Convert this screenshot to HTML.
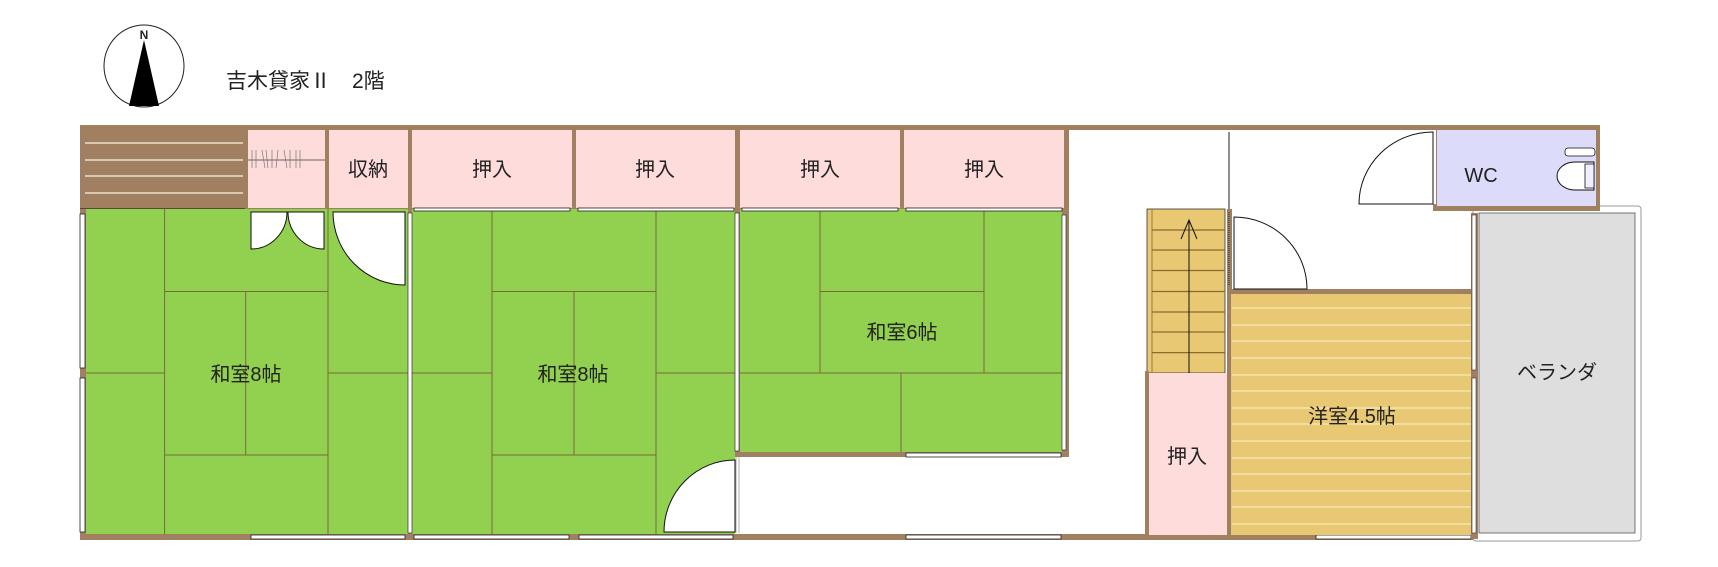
<!DOCTYPE html>
<html><head><meta charset="utf-8"><style>
html,body{margin:0;padding:0;background:#fff}
svg{display:block}
text{font-family:"Liberation Sans","Noto Sans CJK JP",sans-serif;fill:#222}
</style></head><body>
<svg width="1718" height="567" viewBox="0 0 1718 567" xmlns="http://www.w3.org/2000/svg">
<ellipse cx="144" cy="66" rx="40" ry="41" fill="#fff" stroke="#222" stroke-width="1"/>
<polygon points="144,40 129,106 159,106" fill="#000"/>
<text x="144" y="39" font-size="12" text-anchor="middle" font-family="Liberation Serif" font-weight="bold">N</text>
<text x="226" y="88" font-size="21">吉木貸家Ⅱ　2階</text>

<rect x="80" y="125" width="1520" height="5" fill="#a08060"/>
<rect x="80" y="125" width="165" height="84" fill="#a08060"/>
<g stroke="#e8e0d0" stroke-width="1.5"><line x1="85" y1="143" x2="243" y2="143"/><line x1="85" y1="160" x2="243" y2="160"/><line x1="85" y1="176" x2="243" y2="176"/><line x1="85" y1="193" x2="243" y2="193"/></g>
<line x1="80" y1="209" x2="245" y2="209" stroke="#111" stroke-width="1"/>
<rect x="245" y="130" width="824" height="80" fill="#a08060"/>
<g fill="#ffdcdc">
<rect x="248" y="130" width="77" height="78"/>
<rect x="329" y="130" width="79" height="78"/>
<rect x="412" y="130" width="160" height="78"/>
<rect x="576" y="130" width="159" height="78"/>
<rect x="740" y="130" width="160" height="78"/>
<rect x="904" y="130" width="160" height="78"/>
</g>
<line x1="248" y1="160" x2="325" y2="160" stroke="#666" stroke-width="1"/>
<path d="M252 150v18M256 150v18M262 150l3 18M266 150l2 18M272 150v18M278 150l-2 18M284 150l3 18M290 150v18M296 150v18M300 150v18" stroke="#777" stroke-width="0.7"/>
<g font-size="20" text-anchor="middle">
<text x="368" y="176">収納</text>
<text x="492" y="176">押入</text>
<text x="655" y="176">押入</text>
<text x="820" y="176">押入</text>
<text x="984" y="176">押入</text>
</g>

<rect x="80" y="209" width="332" height="331" fill="#a08060"/>
<rect x="86" y="209" width="322" height="326" fill="#92d050"/>
<g stroke="#7a6a3a" stroke-width="1" fill="none">
<line x1="86" y1="373" x2="164.6" y2="373"/><line x1="164.6" y1="209" x2="164.6" y2="535"/>
<line x1="164.6" y1="291.5" x2="328" y2="291.5"/><line x1="164.6" y1="455" x2="328" y2="455"/>
<line x1="245.7" y1="291.5" x2="245.7" y2="455"/><line x1="328" y1="209" x2="328" y2="535"/>
<line x1="328" y1="373" x2="408" y2="373"/>
</g>
<rect x="412" y="209" width="323" height="326" fill="#92d050"/>
<rect x="735" y="209" width="5" height="326" fill="#a08060"/>
<g stroke="#7a6a3a" stroke-width="1" fill="none">
<line x1="412" y1="373" x2="492" y2="373"/><line x1="492" y1="209" x2="492" y2="535"/>
<line x1="492" y1="291.5" x2="656" y2="291.5"/><line x1="492" y1="455" x2="656" y2="455"/>
<line x1="574" y1="291.5" x2="574" y2="455"/><line x1="656" y1="209" x2="656" y2="535"/>
<line x1="656" y1="373" x2="735" y2="373"/>
</g>
<rect x="740" y="209" width="329" height="248" fill="#a08060"/>
<rect x="740" y="209" width="322" height="243" fill="#92d050"/>
<g stroke="#7a6a3a" stroke-width="1" fill="none">
<line x1="820" y1="209" x2="820" y2="373"/><line x1="820" y1="291.5" x2="984" y2="291.5"/>
<line x1="984" y1="209" x2="984" y2="373"/><line x1="740" y1="373" x2="1062" y2="373"/>
<line x1="901" y1="373" x2="901" y2="452"/>
</g>
<rect x="735" y="457" width="5" height="78" fill="#fff"/>
<line x1="736" y1="457" x2="736" y2="533" stroke="#999" stroke-width="0.8"/><line x1="739" y1="457" x2="739" y2="533" stroke="#999" stroke-width="0.8"/>
<rect x="80" y="534" width="1398" height="6" fill="#a08060"/>
<rect x="408" y="213" width="4" height="320" fill="#fff" stroke="#333" stroke-width="0.7"/>
<rect x="735" y="213" width="4" height="238" fill="#fff" stroke="#333" stroke-width="0.7"/>
<rect x="1062" y="215" width="4" height="235" fill="#fff" stroke="#333" stroke-width="0.7"/>
<g fill="#fff" stroke="#222" stroke-width="0.8">
<rect x="80" y="214" width="5" height="154"/><rect x="80" y="378" width="5" height="154"/>
<rect x="251" y="535" width="154" height="4"/><rect x="414" y="535" width="155" height="4"/><rect x="579" y="535" width="154" height="4"/>
<rect x="906" y="535" width="155" height="4"/><rect x="1316" y="535" width="155" height="4"/>
<rect x="906" y="453" width="155" height="4"/>
<rect x="414" y="208" width="156" height="3"/><rect x="578" y="208" width="156" height="3"/><rect x="742" y="208" width="156" height="3"/><rect x="906" y="208" width="156" height="3"/>
</g>
<g fill="#fff" stroke="#111" stroke-width="1">
<path d="M251 212 V249 A36 37 0 0 0 287 212 Z"/>
<path d="M324 212 V249 A36 37 0 0 1 288 212 Z"/>
<path d="M405 212 V285 A72 73 0 0 1 333 212 Z"/>
<path d="M735 532 H664 A71 72 0 0 1 735 460 Z"/>
</g>
<rect x="1147" y="209" width="78" height="164" fill="#e8c872" stroke="#333" stroke-width="0.8"/>
<g stroke="#8a6a30" stroke-width="1.2"><line x1="1152" y1="230" x2="1225" y2="230"/><line x1="1152" y1="250" x2="1225" y2="250"/><line x1="1152" y1="270.5" x2="1225" y2="270.5"/><line x1="1152" y1="291.5" x2="1225" y2="291.5"/><line x1="1152" y1="312" x2="1225" y2="312"/><line x1="1152" y1="332" x2="1225" y2="332"/><line x1="1152" y1="352.6" x2="1225" y2="352.6"/></g>
<line x1="1152" y1="209" x2="1152" y2="373" stroke="#8a6a30" stroke-width="0.8"/>
<line x1="1189" y1="220" x2="1189" y2="373" stroke="#111" stroke-width="1"/>
<polyline points="1181,239 1189,220 1197,239" fill="none" stroke="#111" stroke-width="1"/>
<rect x="1145" y="371" width="4" height="169" fill="#a08060"/>
<rect x="1149" y="373" width="78" height="162" fill="#ffdcdc"/>
<text x="1187" y="463" font-size="20" text-anchor="middle">押入</text>
<rect x="1227" y="209" width="5" height="330" fill="#a08060"/>
<line x1="1229" y1="132" x2="1229" y2="209" stroke="#222" stroke-width="1"/>
<line x1="1229" y1="212" x2="1229" y2="286" stroke="#555" stroke-width="2" stroke-dasharray="1,1"/>
<rect x="1231" y="289" width="240" height="5" fill="#a08060"/>
<rect x="1231" y="294" width="240" height="241" fill="#e8c872"/>
<g stroke="#f6eab8" stroke-width="1.2">
<line x1="1232" y1="308" x2="1471" y2="308"/><line x1="1232" y1="325" x2="1471" y2="325"/><line x1="1232" y1="341" x2="1471" y2="341"/><line x1="1232" y1="358" x2="1471" y2="358"/><line x1="1232" y1="375" x2="1471" y2="375"/><line x1="1232" y1="391" x2="1471" y2="391"/><line x1="1232" y1="408" x2="1471" y2="408"/><line x1="1232" y1="424" x2="1471" y2="424"/><line x1="1232" y1="441" x2="1471" y2="441"/><line x1="1232" y1="458" x2="1471" y2="458"/><line x1="1232" y1="474" x2="1471" y2="474"/><line x1="1232" y1="491" x2="1471" y2="491"/><line x1="1232" y1="507" x2="1471" y2="507"/><line x1="1232" y1="524" x2="1471" y2="524"/>
</g>
<path d="M1234 289 V217 A73 72 0 0 1 1307 289 Z" fill="#fff" stroke="#111" stroke-width="1"/>
<rect x="1473" y="206" width="168" height="335" rx="3" fill="#fff" stroke="#999" stroke-width="1"/>
<rect x="1479" y="213" width="156" height="320" fill="#dedede" stroke="#555" stroke-width="0.8"/>
<rect x="1471" y="213" width="7" height="326" fill="#a08060"/>
<rect x="1472" y="215" width="4" height="155" fill="#fff" stroke="#333" stroke-width="0.6"/>
<rect x="1472" y="378" width="4" height="155" fill="#fff" stroke="#333" stroke-width="0.6"/>
<text x="1557" y="379" font-size="20" text-anchor="middle">ベランダ</text>
<rect x="1433" y="125" width="167" height="86" fill="#a08060"/>
<rect x="1437" y="130" width="159" height="76" fill="#dcdcfa"/>
<rect x="1433" y="130" width="3" height="74" fill="#fff"/>
<path d="M1433 204 H1359 A74 72 0 0 1 1433 132 Z" fill="#fff" stroke="#111" stroke-width="1"/>
<text x="1481" y="182" font-size="20" text-anchor="middle">WC</text>
<path d="M1594 162 H1575 A18 14 0 0 0 1575 190 H1594 Z" fill="#fff" stroke="#111" stroke-width="1"/>
<rect x="1585" y="164" width="9" height="24" fill="#eef" stroke="#111" stroke-width="0.8"/>
<rect x="1565" y="148" width="30" height="8" rx="3" fill="#fff" stroke="#111" stroke-width="0.8"/>
<g font-size="20" text-anchor="middle">
<text x="246" y="381">和室8帖</text>
<text x="573" y="381">和室8帖</text>
<text x="902" y="339">和室6帖</text>
<text x="1352" y="423">洋室4.5帖</text>
</g>
</svg>
</body></html>
